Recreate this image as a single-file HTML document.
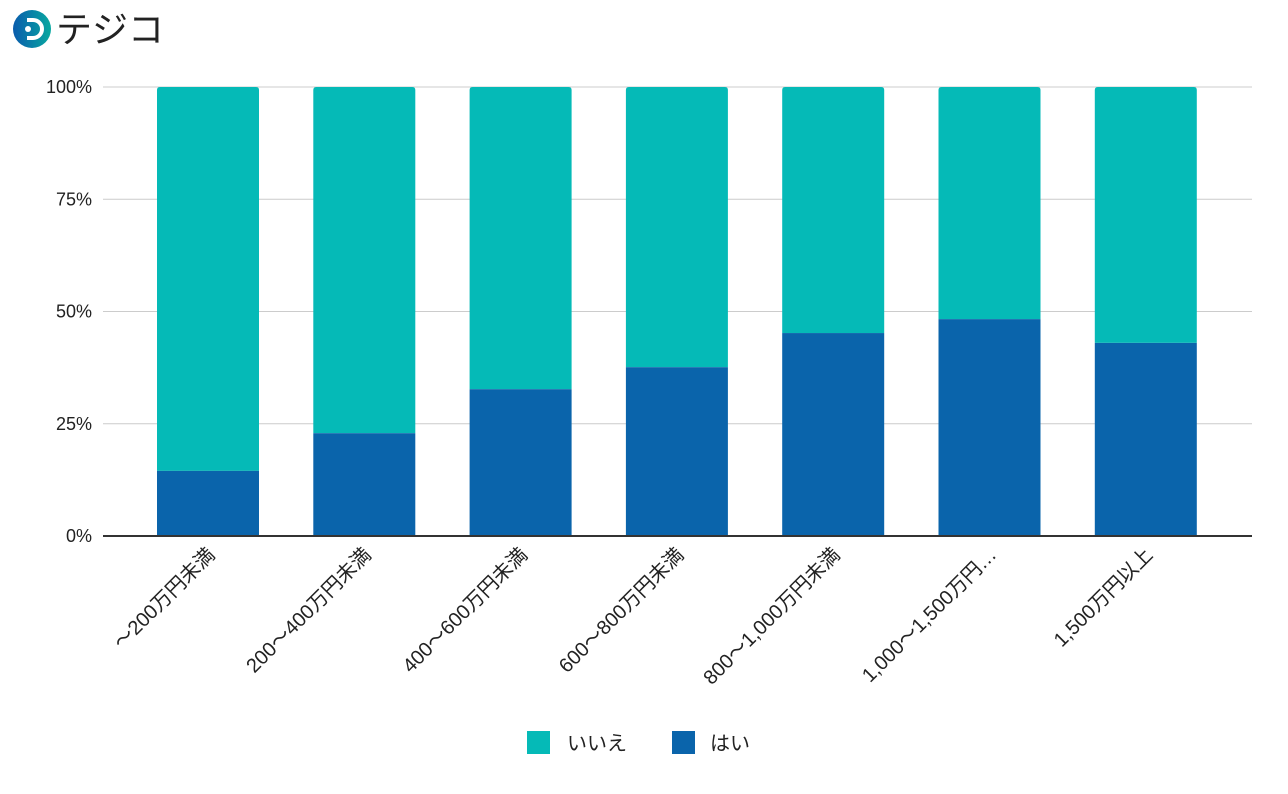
<!DOCTYPE html>
<html><head><meta charset="utf-8">
<style>
body{margin:0;background:#fff;width:1288px;height:789px;overflow:hidden;font-family:"Liberation Sans","Noto Sans CJK JP",sans-serif;}
</style></head><body>
<svg width="1288" height="789" viewBox="0 0 1288 789" font-family="Liberation Sans, Noto Sans CJK JP, sans-serif">
  <g>
    <defs><linearGradient id="lg" x1="0" x2="1" y1="0" y2="0"><stop offset="0" stop-color="#0a5cad"/><stop offset="1" stop-color="#07a8a0"/></linearGradient></defs>
    <circle cx="32" cy="29" r="19" fill="url(#lg)"/>
    <path d="M27 20 h6 a9 9 0 0 1 0 18 h-6" fill="none" stroke="#fff" stroke-width="4"/>
    <circle cx="28" cy="29" r="3" fill="#fff"/>
    <text x="56" y="42" font-size="36" font-weight="normal" fill="#222">テジコ</text>
  </g>
  <g id="grid"></g>
  <g id="bars"></g>
  <g id="axes"></g>
  <g>
    <rect x="527" y="731" width="23" height="23" fill="#05bab7"/>
    <text x="567" y="750" font-size="20" fill="#222">いいえ</text>
    <rect x="672" y="731" width="23" height="23" fill="#0a64ab"/>
    <text x="710" y="750" font-size="20" fill="#222">はい</text>
  </g>
</svg>
<script>
const categories=["〜200万円未満","200〜400万円未満","400〜600万円未満","600〜800万円未満","800〜1,000万円未満","1,000〜1,500万円…","1,500万円以上"];
const yesValues=[14.5,22.9,32.7,37.6,45.2,48.3,43.0];
const yTicks=[0,25,50,75,100];
const yTickLabels=["0%","25%","50%","75%","100%"];
const NS="http://www.w3.org/2000/svg";
const x0=103,x1=1252,yTop=87,yBot=536,barW=102;
const step=156.3;
const yS=v=>yBot-(v/100)*(yBot-yTop);
const xC=i=>208+step*i;
function mk(t,a,p){const e=document.createElementNS(NS,t);for(const k in a)e.setAttribute(k,a[k]);p.appendChild(e);return e;}
const grid=document.getElementById('grid'),bars=document.getElementById('bars'),axes=document.getElementById('axes');
yTicks.forEach((v,i)=>{
  if(v>0){const l=mk('line',{x1:x0,x2:x1,y1:yS(v),y2:yS(v),stroke:'#ccc','stroke-width':1},grid);
  
  }
  const t=mk('text',{x:92,y:yS(v)+6,'text-anchor':'end','font-size':18,fill:'#222'},axes);
  t.textContent=yTickLabels[i];
  
  
});
categories.forEach((c,i)=>{
  const cx=xC(i),y=yS(yesValues[i]);
  const no=mk('path',{d:`M${cx-barW/2} ${y} V${yTop+3} Q${cx-barW/2} ${yTop} ${cx-barW/2+3} ${yTop} H${cx+barW/2-3} Q${cx+barW/2} ${yTop} ${cx+barW/2} ${yTop+3} V${y} Z`,fill:'#05bab7'},bars);
  
  
  const yes=mk('rect',{x:cx-barW/2,y:y,width:barW,height:yBot-y,fill:'#0a64ab'},bars);
  
  
  const t=mk('text',{x:0,y:0,'text-anchor':'end','font-size':20,fill:'#222',transform:`translate(${cx+8},${yBot+20}) rotate(-45)`},axes);
  t.textContent=c;
  
  
});
const ax=mk('line',{x1:x0,x2:x1,y1:yBot,y2:yBot,stroke:'#333','stroke-width':2},axes);


</script>
</body></html>
